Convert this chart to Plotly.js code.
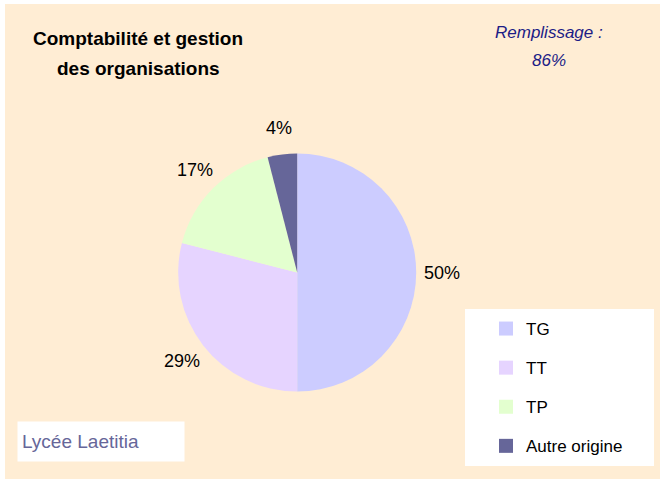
<!DOCTYPE html>
<html>
<head>
<meta charset="utf-8">
<script src="https://cdn.plot.ly/plotly-3.0.1.min.js"></script>
<style>
  html, body { margin: 0; padding: 0; background: #ffffff; overflow: hidden; }
  #chart { position: absolute; left: 5px; top: 4px; width: 655px; height: 475px; }
</style>
</head>
<body>
<div id="chart"></div>
<script>
// ---- data ----
const categories = ['TG', 'TT', 'TP', 'Autre origine'];
const values = [50, 29, 17, 4];
const sliceColors = ['#CCCCFF', '#E6D4FF', '#E3FFCF', '#666699'];
const titleLines = ['Comptabilité et gestion', 'des organisations'];
const fillLines = ['Remplissage :', '86%'];
const schoolName = 'Lycée Laetitia';

// ---- geometry helpers (image pixel -> paper fraction) ----
const W = 655, H = 475, OX = 5, OY = 4;
const px = x => (x - OX) / W;
const py = y => 1 - (y - OY) / H;

const FONT = 'Liberation Sans, Arial, sans-serif';

// pie center & radius in image pixels
const cx = 297.2, cy = 272.5, r = 119;

const pie = {
  type: 'pie',
  labels: categories,
  values: values,
  sort: false,
  direction: 'clockwise',
  rotation: 0,
  marker: { colors: sliceColors, line: { width: 0 } },
  textinfo: 'none',
  showlegend: false,
  hoverinfo: 'label+percent',
  domain: { x: [px(cx - r), px(cx + r)], y: [py(cy + r), py(cy - r)] }
};

// legend entries (one per category, separate groups for spacing)
const legendTraces = categories.map((c, i) => ({
  type: 'scatter',
  mode: 'markers',
  x: [null], y: [null],
  name: c,
  legendgroup: 'g' + i,
  marker: { symbol: 'square', size: 14, color: sliceColors[i], line: { width: 0 } },
  showlegend: true,
  hoverinfo: 'skip'
}));

const annotations = [
  { text: '<b>' + titleLines[0] + '</b>', x: px(138), y: py(38) },
  { text: '<b>' + titleLines[1] + '</b>', x: px(138), y: py(69) },
].map(a => Object.assign(a, {
  xref: 'paper', yref: 'paper', xanchor: 'center', yanchor: 'middle',
  showarrow: false, font: { family: FONT, size: 19, color: '#000000' }
}));

[[fillLines[0], 32], [fillLines[1], 60]].forEach(([t, y]) => annotations.push({
  text: '<i>' + t + '</i>', x: px(549), y: py(y),
  xref: 'paper', yref: 'paper', xanchor: 'center', yanchor: 'middle',
  showarrow: false, font: { family: FONT, size: 17, color: '#1C1C86' }
}));

annotations.push({
  text: schoolName, x: px(101), y: py(441),
  xref: 'paper', yref: 'paper', xanchor: 'center', yanchor: 'middle',
  width: 158, height: 31, borderpad: 4, align: 'left', bgcolor: '#FFFFFF',
  showarrow: false, font: { family: FONT, size: 19, color: '#666699' }
});

// percentage labels placed outside each slice, at the slice's mid-angle
const total = values.reduce((a, b) => a + b, 0);
let cum = 0;
values.forEach(v => {
  const mid = (cum + v / 2) / total * 2 * Math.PI; // clockwise from 12 o'clock
  cum += v;
  const lr = r * 1.22;
  annotations.push({
    text: Math.round(v / total * 100) + '%',
    x: px(cx + lr * Math.sin(mid)), y: py(cy - lr * Math.cos(mid)),
    xref: 'paper', yref: 'paper', xanchor: 'center', yanchor: 'middle',
    showarrow: false, font: { family: FONT, size: 18, color: '#000000' }
  });
});

const layout = {
  width: W, height: H,
  margin: { l: 0, r: 0, t: 0, b: 0 },
  paper_bgcolor: '#FFEDD4',
  plot_bgcolor: 'rgba(0,0,0,0)',
  font: { family: FONT, size: 17, color: '#000000' },
  xaxis: { visible: false },
  yaxis: { visible: false },
  showlegend: true,
  legend: {
    x: px(486), y: py(311), xanchor: 'left', yanchor: 'top',
    bgcolor: 'rgba(0,0,0,0)', borderwidth: 0,
    traceorder: 'grouped', tracegroupgap: 14,
    font: { family: FONT, size: 17, color: '#000000' }
  },
  shapes: [{
    type: 'rect', xref: 'paper', yref: 'paper', layer: 'below',
    x0: px(465), x1: px(654), y0: py(466), y1: py(309),
    fillcolor: '#FFFFFF', line: { width: 0 }
  }],
  annotations: annotations
};

Plotly.newPlot('chart', [pie].concat(legendTraces), layout, { displayModeBar: false, staticPlot: true });
</script>
</body>
</html>
